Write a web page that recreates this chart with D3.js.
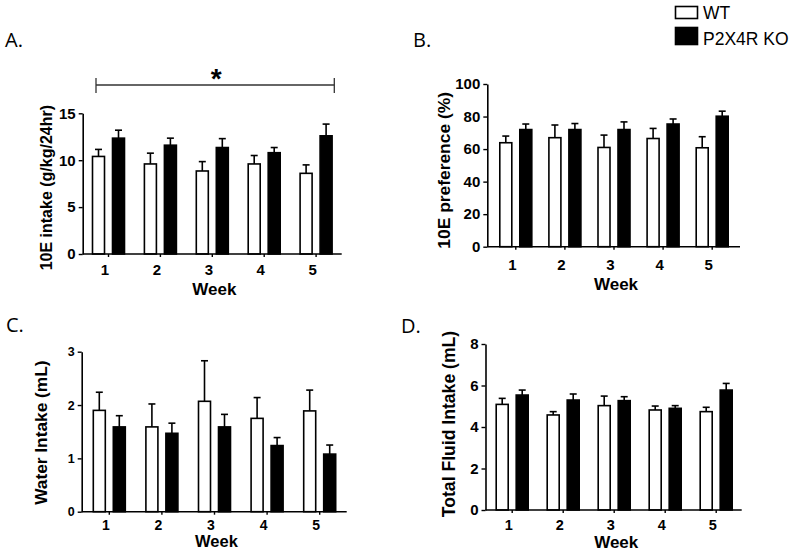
<!DOCTYPE html>
<html>
<head>
<meta charset="utf-8">
<script src="https://cdn.jsdelivr.net/npm/d3@7/dist/d3.min.js"></script>
<style>
  html, body { margin: 0; padding: 0; background: #fff; }
  svg { display: block; }
  .axis text { font-family: "Liberation Sans", Arial, sans-serif; font-weight: bold; fill: #000; }
  .axis path, .axis line { stroke: #000; }
</style>
</head>
<body>
<svg id="chart" width="800" height="554"></svg>
<script>
// ---------------- DATA ----------------
const weeks = ["1", "2", "3", "4", "5"];
const groups = ["WT", "P2X4R KO"];

// A. 10E intake (g/kg/24hr)
const intakeWT    = [10.4, 9.6, 8.85, 9.6, 8.6];
const intakeWTerr = [0.75, 1.15, 1.0, 0.9, 0.9];
const intakeKO    = [12.35, 11.6, 11.35, 10.8, 12.6];
const intakeKOerr = [0.85, 0.75, 0.95, 0.55, 1.25];
const intakeTicks = [0, 5, 10, 15];

// B. 10E preference (%)
const prefWT    = [63.9, 67.0, 61.0, 66.5, 60.8];
const prefWTerr = [4.1, 7.8, 7.6, 6.2, 6.8];
const prefKO    = [72.0, 72.0, 72.0, 75.4, 80.2];
const prefKOerr = [3.4, 3.7, 4.7, 3.1, 3.1];
const prefTicks = [0, 20, 40, 60, 80, 100];

// C. Water Intake (mL)
const waterWT    = [1.90, 1.59, 2.07, 1.75, 1.89];
const waterWTerr = [0.34, 0.43, 0.76, 0.39, 0.39];
const waterKO    = [1.59, 1.47, 1.59, 1.24, 1.08];
const waterKOerr = [0.21, 0.19, 0.235, 0.15, 0.17];
const waterTicks = [0, 1, 2, 3];

// D. Total Fluid Intake (mL)
const totalWT    = [5.09, 4.58, 5.03, 4.82, 4.74];
const totalWTerr = [0.29, 0.16, 0.46, 0.19, 0.21];
const totalKO    = [5.54, 5.30, 5.27, 4.90, 5.78];
const totalKOerr = [0.24, 0.29, 0.19, 0.13, 0.32];
const totalTicks = [0, 2, 4, 6, 8];

const panelLabels = ["A.", "B.", "C.", "D."];
const yTitles = ["10E intake (g/kg/24hr)", "10E preference (%)", "Water Intake (mL)", "Total Fluid Intake (mL)"];
const xTitle = "Week";
const sigMark = "*";

// ---------------- LAYOUT ----------------
const svg = d3.select("#chart");
const FONT = '"Liberation Sans", Arial, sans-serif';

const panels = [
  { label: panelLabels[0], lx: 5, ly: 47, wt: intakeWT, wtE: intakeWTerr, ko: intakeKO, koE: intakeKOerr, ticks: intakeTicks,
    title: yTitles[0], x0: 82.7, xEnd: 341.7, c1: 108.5, step: 51.9, y0: 254, yTop: 113.3,
    yTickFont: 15, xTickFont: 15, xTickBase: 275, titleFont: 16, titleX: 52, titleDy: 4, weekFont: 17, weekBase: 295 },
  { label: panelLabels[1], lx: 413, ly: 47, wt: prefWT, wtE: prefWTerr, ko: prefKO, koE: prefKOerr, ticks: prefTicks,
    title: yTitles[1], x0: 487.3, xEnd: 740, c1: 515.8, step: 49.1, y0: 246.7, yTop: 84,
    yTickFont: 15, xTickFont: 15, xTickBase: 270, titleFont: 17.4, titleX: 450, titleDy: 5, weekFont: 17, weekBase: 290 },
  { label: panelLabels[2], lx: 6, ly: 331.5, wt: waterWT, wtE: waterWTerr, ko: waterKO, koE: waterKOerr, ticks: waterTicks,
    title: yTitles[2], x0: 81.7, xEnd: 346.7, c1: 109.3, step: 52.6, y0: 511.7, yTop: 351.7,
    yTickFont: 12.5, xTickFont: 14, xTickBase: 530.5, titleFont: 17.3, titleX: 47, titleDy: 1, weekFont: 16.5, weekBase: 547 },
  { label: panelLabels[3], lx: 401, ly: 333, wt: totalWT, wtE: totalWTerr, ko: totalKO, koE: totalKOerr, ticks: totalTicks,
    title: yTitles[3], x0: 485.5, xEnd: 741.7, c1: 512.2, step: 51.0, y0: 510, yTop: 344,
    yTickFont: 15, xTickFont: 14.5, xTickBase: 530, titleFont: 17.6, titleX: 455, titleDy: -3, weekFont: 17, weekBase: 548 }
];

panels.forEach(p => {
  const g = svg.append("g");
  const yMax = p.ticks[p.ticks.length - 1];
  const y = d3.scaleLinear().domain([0, yMax]).range([p.y0, p.yTop]);
  const x = d3.scaleBand().domain(weeks)
    .range([p.c1 - p.step / 2, p.c1 - p.step / 2 + weeks.length * p.step]).padding(0);
  const inner = d3.scaleBand().domain(groups).range([-16, 16]).paddingInner(0.4);
  const bw = inner.bandwidth();

  // panel label
  svg.append("text").attr("x", p.lx).attr("y", p.ly)
    .attr("font-family", '"Open Sans", "Noto Sans", sans-serif')
    .attr("font-size", 20).attr("fill", "#000").text(p.label);

  const rows = weeks.map((w, i) => [
    { w, grp: groups[0], v: p.wt[i], e: p.wtE[i] },
    { w, grp: groups[1], v: p.ko[i], e: p.koE[i] }
  ]).flat();

  const cx = d => x(d.w) + x.bandwidth() / 2 + inner(d.grp) + bw / 2;

  // error bars (upper only)
  g.selectAll("line.err").data(rows).join("line")
    .attr("x1", cx).attr("x2", cx)
    .attr("y1", d => y(d.v)).attr("y2", d => y(d.v + d.e))
    .attr("stroke", "#000").attr("stroke-width", 1.6);
  g.selectAll("line.cap").data(rows).join("line")
    .attr("x1", d => cx(d) - 3.5).attr("x2", d => cx(d) + 3.5)
    .attr("y1", d => y(d.v + d.e)).attr("y2", d => y(d.v + d.e))
    .attr("stroke", "#000").attr("stroke-width", 1.6);

  // bars
  g.selectAll("rect.bar").data(rows).join("rect")
    .attr("x", d => x(d.w) + x.bandwidth() / 2 + inner(d.grp))
    .attr("width", bw)
    .attr("y", d => y(d.v))
    .attr("height", d => p.y0 - y(d.v))
    .attr("fill", d => d.grp === groups[0] ? "#fff" : "#000")
    .attr("stroke", "#000").attr("stroke-width", 1.6);

  // y axis
  const ya = g.append("g").attr("class", "axis")
    .attr("transform", `translate(${p.x0},0)`)
    .call(d3.axisLeft(y).tickValues(p.ticks).tickSize(4).tickSizeOuter(0).tickPadding(3).tickFormat(d3.format("d")));
  ya.selectAll("text").attr("font-size", p.yTickFont).attr("font-family", FONT);
  ya.select("path.domain").attr("stroke-width", 1.6);
  ya.selectAll(".tick line").attr("stroke-width", 1.4);

  // x axis
  const xa = g.append("g").attr("class", "axis")
    .attr("transform", `translate(0,${p.y0})`)
    .call(d3.axisBottom(x).tickSize(3).tickSizeOuter(0).tickPadding(4));
  xa.select("path.domain").remove();
  xa.selectAll(".tick line").attr("stroke-width", 1.4);
  xa.selectAll("text").attr("font-size", p.xTickFont).attr("font-family", FONT)
    .attr("dy", null).attr("y", p.xTickBase - p.y0).attr("dx", -3.5);
  g.append("line").attr("x1", p.x0).attr("x2", p.xEnd).attr("y1", p.y0).attr("y2", p.y0)
    .attr("stroke", "#000").attr("stroke-width", 1.6);

  // y title
  svg.append("text")
    .attr("transform", `translate(${p.titleX},${(p.y0 + p.yTop) / 2 + p.titleDy}) rotate(-90)`)
    .attr("text-anchor", "middle").attr("font-family", FONT).attr("font-weight", "bold")
    .attr("font-size", p.titleFont).attr("fill", "#000").text(p.title);

  // x title, centred under the middle week
  svg.append("text")
    .attr("x", x(weeks[2]) + x.bandwidth() / 2 + 2)
    .attr("y", p.weekBase)
    .attr("text-anchor", "middle").attr("font-family", FONT).attr("font-weight", "bold")
    .attr("font-size", p.weekFont).attr("fill", "#000").text(xTitle);
});

// significance bracket in panel A
const bx1 = 96, bx2 = 334.3, by = 85;
const br = svg.append("g").attr("stroke", "#333").attr("stroke-width", 1.3);
br.append("line").attr("x1", bx1).attr("x2", bx2).attr("y1", by).attr("y2", by);
br.append("line").attr("x1", bx1).attr("x2", bx1).attr("y1", by - 7).attr("y2", by + 8);
br.append("line").attr("x1", bx2).attr("x2", bx2).attr("y1", by - 7).attr("y2", by + 8);
svg.append("text").attr("x", (bx1 + bx2) / 2 + 1).attr("y", 88)
  .attr("text-anchor", "middle").attr("font-family", FONT).attr("font-weight", "bold")
  .attr("font-size", 28).attr("fill", "#000").text(sigMark);

// legend
const leg = svg.append("g");
groups.forEach((gname, i) => {
  const yy = i === 0 ? 6.5 : 27.5;
  leg.append("rect").attr("x", 675.5).attr("y", yy).attr("width", 22).attr("height", i === 0 ? 12 : 17)
    .attr("fill", i === 0 ? "#fff" : "#000").attr("stroke", "#000").attr("stroke-width", 1.6);
  leg.append("text").attr("x", 703).attr("y", i === 0 ? 18.5 : 45)
    .attr("font-family", FONT).attr("font-size", 17.5).attr("fill", "#000").text(gname);
});
</script>
</body>
</html>
